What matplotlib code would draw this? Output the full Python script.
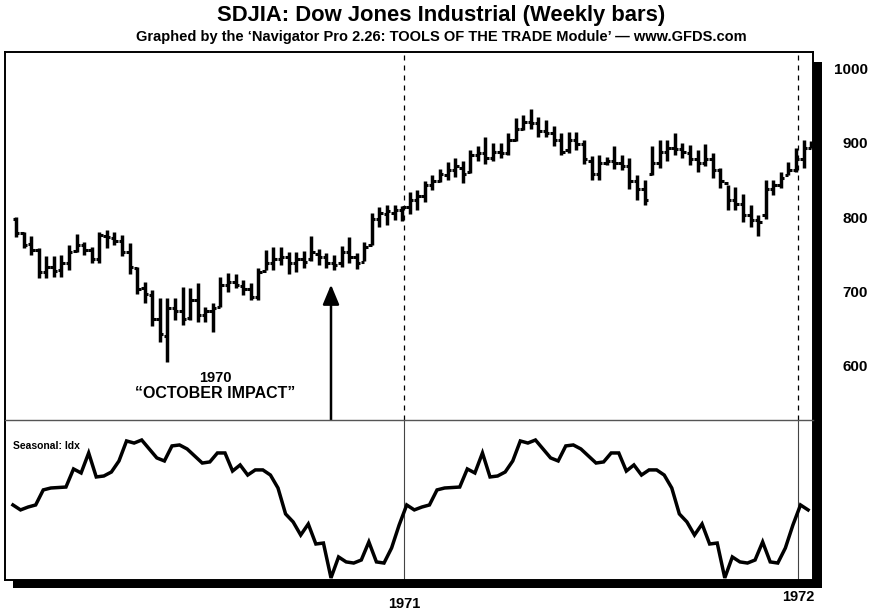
import matplotlib
matplotlib.use("Agg")
import matplotlib.pyplot as plt
import matplotlib.patches as patches
import matplotlib.transforms as mtransforms

plt.rcParams['font.family'] = ['Liberation Sans', 'DejaVu Sans']

# ---------------- data (weekly bars, Jan 1970 - Jan 1972) ----------------
highs = [802, 782, 776, 761, 749, 749, 751, 764, 779, 769, 762, 782, 784, 782, 778, 767,
         735, 715, 704, 693, 693, 693, 708, 706, 713, 681, 686, 722, 727, 726, 717, 713,
         733, 758, 762, 762, 755, 755, 756, 777, 759, 754, 751, 763, 775, 754, 769, 807,
         816, 818, 818, 817, 836, 838, 850, 858, 866, 876, 882, 877, 892, 897, 910, 901,
         901, 915, 935, 939, 948, 937, 933, 924, 915, 917, 917, 906, 884, 886, 883, 897,
         886, 882, 859, 852, 897, 906, 905, 915, 902, 899, 892, 900, 888, 868, 845, 843,
         833, 818, 805, 852, 852, 863, 876, 895, 906, 904]
lows = [775, 760, 751, 720, 720, 721, 721, 731, 755, 751, 740, 740, 760, 765, 749, 726,
        698, 687, 655, 634, 607, 664, 657, 663, 661, 661, 648, 681, 701, 706, 697, 690,
        690, 731, 731, 738, 726, 728, 733, 743, 738, 733, 731, 735, 740, 732, 743, 764,
        789, 791, 798, 797, 806, 812, 822, 838, 849, 852, 856, 848, 861, 877, 874, 877,
        881, 886, 904, 919, 921, 910, 910, 897, 886, 888, 892, 874, 852, 852, 872, 866,
        865, 840, 825, 818, 859, 868, 877, 886, 881, 872, 863, 871, 854, 841, 812, 812,
        795, 789, 776, 800, 832, 841, 859, 862, 868, 895]
opens = [800, 780, 766, 757, 728, 735, 731, 740, 756, 764, 757, 745, 777, 774, 770, 755,
         733, 706, 697, 665, 642, 680, 676, 666, 690, 670, 676, 681, 710, 715, 709, 705,
         695, 730, 740, 745, 748, 740, 745, 745, 752, 748, 740, 740, 755, 748, 742, 765,
         800, 806, 808, 812, 815, 825, 830, 845, 850, 858, 865, 868, 862, 885, 888, 882,
         890, 888, 906, 920, 930, 928, 918, 915, 905, 892, 905, 900, 878, 860, 875, 878,
         875, 870, 850, 840, 860, 875, 890, 895, 893, 888, 880, 875, 880, 865, 848, 825,
         820, 805, 798, 805, 840, 845, 858, 865, 880, 895]
closes = [780, 765, 758, 728, 735, 730, 740, 755, 765, 758, 745, 778, 775, 770, 755, 735,
          705, 698, 665, 645, 680, 675, 665, 690, 670, 675, 680, 710, 715, 710, 705, 695,
          728, 740, 745, 748, 740, 745, 742, 755, 748, 740, 738, 755, 748, 740, 762, 800,
          808, 810, 812, 815, 825, 830, 845, 850, 860, 865, 870, 860, 885, 888, 882, 890,
          888, 905, 920, 930, 928, 918, 915, 905, 890, 905, 900, 880, 860, 875, 878, 875,
          870, 850, 840, 825, 875, 890, 895, 893, 890, 880, 875, 880, 865, 850, 825, 820,
          805, 798, 795, 840, 845, 855, 865, 880, 895, 900]

# seasonal index: one year of weekly values (repeats every year)
seasonal_year = [46.9, 43.8, 45.6, 46.9, 56.3, 57.5, 57.8, 58.1, 69.4, 66.9, 79.4, 64.4,
                 65.0, 67.5, 74.4, 86.9, 85.6, 87.5, 81.9, 76.3, 74.4, 83.8, 84.4, 81.9,
                 77.5, 73.1, 73.8, 79.4, 79.4, 68.1, 71.9, 65.6, 68.8, 68.8, 65.6, 57.5,
                 41.3, 36.3, 28.1, 35.0, 22.5, 23.1, 1.3, 14.4, 11.3, 10.6, 12.5, 23.8,
                 11.3, 10.6, 20.0, 34.4]
seasonal = seasonal_year * 2 + seasonal_year[:2]

year_labels = ['1971', '1972']
year_weeks = [51.3, 103.3]
price_ticks = [600, 700, 800, 900, 1000]

title = 'SDJIA: Dow Jones Industrial (Weekly bars)'
subtitle = ('Graphed by the \u2018Navigator Pro 2.26: TOOLS OF THE TRADE Module\u2019 '
            '\u2014 www.GFDS.com')

# ---------------- layout ----------------
W, H = 882, 612
fig = plt.figure(figsize=(W / 100, H / 100), dpi=100)
fig.patch.set_facecolor('white')

def fx(px):
    return px / W

def fy(py):
    return 1 - py / H

L, R, T, MID, B = 5, 813, 52, 420, 580
ax_top = fig.add_axes([fx(L), fy(MID), fx(R) - fx(L), fy(T) - fy(MID)])
ax_bot = fig.add_axes([fx(L), fy(B), fx(R) - fx(L), fy(MID) - fy(B)])

# drop shadow
shadow = patches.Rectangle((fx(13), fy(588)), fx(822) - fx(13), fy(62) - fy(588),
                           transform=fig.transFigure, facecolor='black',
                           edgecolor='none', zorder=-5)
fig.add_artist(shadow)

xmin, xmax = -1.45, 105.25
for ax in (ax_top, ax_bot):
    ax.set_facecolor('white')
    ax.set_xlim(xmin, xmax)
    ax.set_xticks([])
    ax.set_yticks([])
    for s in ax.spines.values():
        s.set_color('black')
        s.set_linewidth(1.4)

ax_top.set_ylim(529, 1024)
ax_bot.set_ylim(0, 100)
ax_top.spines['bottom'].set_visible(False)
ax_bot.spines['top'].set_color('#555555')
ax_bot.spines['top'].set_linewidth(1.0)

# ---------------- price bars ----------------
xs = list(range(len(highs)))
tick = 0.45
ax_top.vlines(xs, lows, highs, color='black', linewidth=2.5, zorder=3)
ax_top.hlines(opens, [x - tick for x in xs], xs, color='black', linewidth=2.2, zorder=3)
ax_top.hlines(closes, xs, [x + tick for x in xs], color='black', linewidth=2.2, zorder=3)

for wk in year_weeks:
    ax_top.axvline(wk, color='black', linewidth=0.9, linestyle=(0, (4, 4)), zorder=1)
    ax_bot.axvline(wk, color='#444444', linewidth=0.8, zorder=1)

# right-side price labels
tr = mtransforms.blended_transform_factory(fig.transFigure, ax_top.transData)
for p in price_ticks:
    ax_top.text(fx(868), p, str(p), transform=tr, ha='right', va='center',
                fontsize=11, fontweight='bold', clip_on=False)

# annotation
ax_top.text(26.3, 585, '1970', ha='center', va='center', fontsize=10.5, fontweight='bold')
ax_top.text(26.3, 564, '\u201cOCTOBER IMPACT\u201d', ha='center', va='center',
            fontsize=11.5, fontweight='bold')

# ---------------- seasonal ----------------
sx = [i - 0.4 for i in range(len(seasonal))]
ax_bot.plot(sx, seasonal, color='black', linewidth=2.5, solid_joinstyle='miter', zorder=3)
ax_bot.text(0.01, 0.835, 'Seasonal: Idx', transform=ax_bot.transAxes,
            ha='left', va='center', fontsize=7.5, fontweight='bold')

# arrow from seasonal low up into price panel
low_idx = seasonal_year.index(min(seasonal_year))
ax_top.annotate('', xy=(low_idx - 0.4, 711), xycoords='data',
                xytext=(low_idx - 0.4, min(seasonal_year)), textcoords=ax_bot.transData,
                arrowprops=dict(arrowstyle='-|>,head_length=0.6,head_width=0.25',
                                mutation_scale=20, lw=1.8, color='black',
                                shrinkA=0, shrinkB=0),
                annotation_clip=False, zorder=5)

# year labels
trb = mtransforms.blended_transform_factory(ax_bot.transData, fig.transFigure)
ax_bot.text(year_weeks[0], fy(604), year_labels[0], transform=trb, ha='center', va='center',
            fontsize=10.5, fontweight='bold', clip_on=False)
ax_bot.text(year_weeks[1], fy(597), year_labels[1], transform=trb, ha='center', va='center',
            fontsize=10.5, fontweight='bold', clip_on=False)

# titles
fig.text(0.5, fy(16), title, ha='center', va='center', fontsize=15.8, fontweight='bold')
fig.text(0.5, fy(37), subtitle, ha='center', va='center', fontsize=10.5, fontweight='bold')

fig.savefig('out.png', dpi=100, facecolor='white')
